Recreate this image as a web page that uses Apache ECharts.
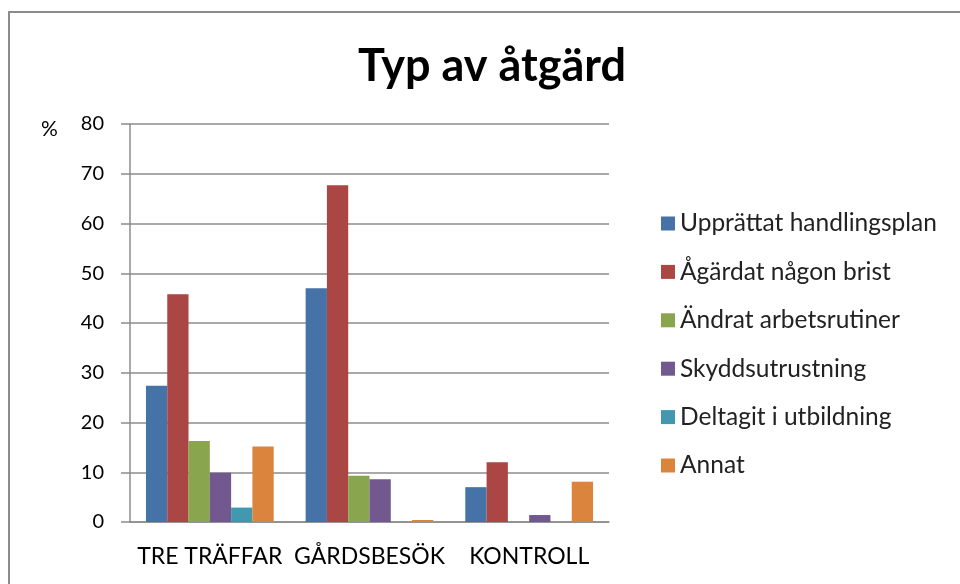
<!DOCTYPE html>
<html>
<head>
<meta charset="utf-8">
<script src="https://cdn.jsdelivr.net/npm/echarts@6/dist/echarts.min.js"></script>
<style>
  html, body { margin: 0; padding: 0; background: #fff; }
  #frame { position: absolute; left: 8px; top: 11px; width: 1000px; height: 1000px;
           border-left: 2px solid #8c8c8c; border-top: 2px solid #8c8c8c; }
  #chart { position: absolute; left: 0; top: 0; width: 960px; height: 584px; }
</style>
</head>
<body>
<div id="frame"></div>
<div id="chart"></div>
<script>
// categories and series values (percent)
var categories = ['TRE TRÄFFAR', 'GÅRDSBESÖK', 'KONTROLL'];
var seriesNames = ['Upprättat handlingsplan', 'Ågärdat någon brist', 'Ändrat arbetsrutiner',
                   'Skyddsutrustning', 'Deltagit i utbildning', 'Annat'];
var handlingsplan = [27.4, 47.0, 7.0];
var brist = [45.8, 67.7, 12.0];
var arbetsrutiner = [16.3, 9.3, 0];
var skydd = [9.9, 8.6, 1.4];
var utbildning = [2.9, 0, 0];
var annat = [15.2, 0.4, 8.1];
var colors = ['#4572A7', '#AA4643', '#89A54E', '#71588F', '#4198AF', '#DB843D'];

var chart = echarts.init(document.getElementById('chart'));
var font = 'Lato, "Open Sans", sans-serif';

var values = [handlingsplan, brist, arbetsrutiner, skydd, utbildning, annat];
var series = seriesNames.map(function (name, i) {
  return {
    name: name,
    type: 'bar',
    data: values[i],
    barGap: 0,
    barCategoryGap: '20%',
    itemStyle: { color: colors[i] }
  };
});

chart.setOption({
  animation: false,
  color: colors,
  title: [{
    text: 'Typ av åtgärd',
    left: 487, top: 39, textAlign: 'center',
    textStyle: { fontFamily: font, fontSize: 45, fontWeight: 'bold', color: '#000' }
  }, {
    text: '%',
    left: 36, top: 114,
    textStyle: { fontFamily: font, fontSize: 21, fontWeight: 'normal', color: '#000' }
  }],
  legend: {
    orient: 'vertical',
    left: 656, top: 206,
    itemWidth: 14, itemHeight: 14,
    itemGap: 23.4,
    icon: 'rect',
    textStyle: { fontFamily: font, fontSize: 24.5, color: '#222', lineHeight: 24 },
    data: seriesNames
  },
  grid: { left: 130, right: 351, top: 124, bottom: 62 },
  xAxis: {
    type: 'category',
    data: categories,
    axisTick: { show: false },
    axisLine: { lineStyle: { color: '#8c8c8c', width: 1.5 } },
    axisLabel: { fontFamily: font, fontSize: 23, color: '#000', margin: 23, interval: 0 }
  },
  yAxis: {
    type: 'value',
    min: 0, max: 80, interval: 10,
    axisLine: { show: true, lineStyle: { color: '#8c8c8c', width: 1.5 } },
    axisTick: { show: true, length: 9, lineStyle: { color: '#8c8c8c', width: 1.5 } },
    splitLine: { lineStyle: { color: '#8c8c8c', width: 1.5 } },
    axisLabel: { fontFamily: font, fontSize: 20, color: '#000', margin: 26 }
  },
  series: series
});
</script>
</body>
</html>
